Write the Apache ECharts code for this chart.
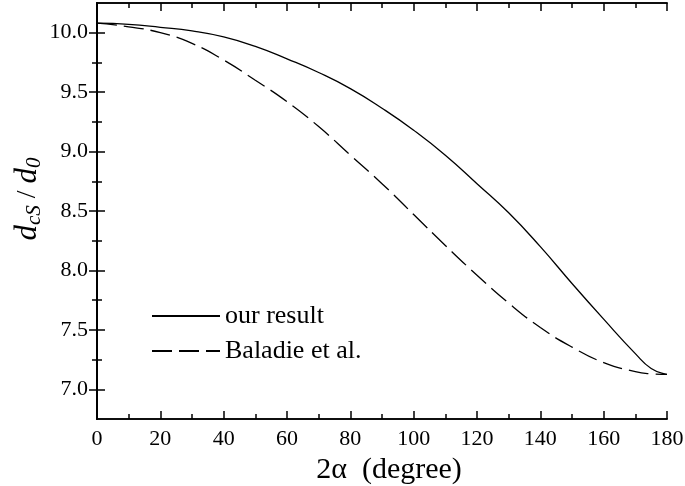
<!DOCTYPE html>
<html><head><meta charset="utf-8">
<script src="https://cdn.jsdelivr.net/npm/echarts@6/dist/echarts.min.js"></script>
<style>html,body{margin:0;padding:0;background:#fff}#c{width:685px;height:486px}</style>
</head><body><div id="c"></div>
<script>
// Data
const angles = [0,10,20,30,40,50,60,70,80,90,100,110,120,130,140,150,160,170,175,180];
const ourResult = [10.08,10.07,10.045,10.015,9.965,9.885,9.78,9.665,9.53,9.365,9.18,8.97,8.73,8.485,8.2,7.89,7.59,7.30,7.175,7.125];
const baladie   = [10.08,10.05,10.00,9.91,9.77,9.60,9.42,9.21,8.97,8.73,8.47,8.21,7.96,7.725,7.52,7.355,7.225,7.148,7.13,7.125];
const xMajor = [0,20,40,60,80,100,120,140,160,180];
const xMinor = [10,30,50,70,90,110,130,150,170];
const yMajor = [7.0,7.5,8.0,8.5,9.0,9.5,10.0];
const yMinor = [7.25,7.75,8.25,8.75,9.25,9.75];

const FONT = 'Liberation Serif';
const pair = (xs, ys) => xs.map((x, i) => [x, ys[i]]);
const X0 = 0, X1 = 180, Y0 = 6.75, Y1 = 10.25;
const lineS = {show: true, lineStyle: {color: '#000', width: 1.6}};

function xAx(pos, ticks, len, labels, extra) {
  return Object.assign({
    type: 'value', position: pos, min: X0, max: X1,
    axisLine: lineS,
    axisTick: {show: true, inside: true, length: len, customValues: ticks, lineStyle: {color: '#000', width: 1.5}},
    axisLabel: labels ? {show: true, customValues: ticks, margin: 9, fontFamily: FONT, fontSize: 22, color: '#000'} : {show: false},
    splitLine: {show: false}
  }, extra || {});
}
function yAx(pos, ticks, len, labels, extra) {
  return Object.assign({
    type: 'value', position: pos, min: Y0, max: Y1,
    axisLine: lineS,
    axisTick: {show: true, inside: true, length: len, customValues: ticks, lineStyle: {color: '#000', width: 1.5}},
    axisLabel: labels ? {show: true, customValues: ticks, margin: 9, fontFamily: FONT, fontSize: 22, color: '#000',
      formatter: v => Number(v).toFixed(1)} : {show: false},
    splitLine: {show: false}
  }, extra || {});
}

const chart = echarts.init(document.getElementById('c'), null, {renderer: 'canvas'});
chart.setOption({
  backgroundColor: '#fff',
  animation: false,
  grid: {left: 97, right: 18, top: 3, bottom: 67, containLabel: false, outerBoundsMode: 'none'},
  xAxis: [
    xAx('bottom', xMajor, 8, true, {
      name: '2α  (degree)', nameLocation: 'middle', nameGap: 22,
      nameTextStyle: {fontFamily: FONT, fontSize: 30, color: '#000', padding: [0, 0, 0, 14]}
    }),
    xAx('bottom', xMinor, 5, false),
    xAx('top', xMajor, 8, false),
    xAx('top', xMinor, 5, false)
  ],
  yAxis: [
    yAx('left', yMajor, 8, true),
    yAx('left', yMinor, 5, false),
    yAx('right', yMajor, 8, false),
    yAx('right', yMinor, 5, false)
  ],
  graphic: [{
    type: 'text', x: 28, y: 199, rotation: Math.PI / 2,
    style: {
      text: '{i|d}{s|cS}{n| / }{i|d}{s|0}',
      fill: '#000', align: 'center', verticalAlign: 'middle',
      rich: {
        i: {fontFamily: FONT, fontStyle: 'italic', fontSize: 31, fill: '#000'},
        s: {fontFamily: FONT, fontStyle: 'italic', fontSize: 21, fill: '#000', padding: [13, 0, 0, 0]},
        n: {fontFamily: FONT, fontSize: 28, fill: '#000'}
      }
    }
  }],
  legend: {
    show: true, orient: 'vertical', left: 146, top: 298,
    itemWidth: 68, itemHeight: 20, itemGap: 9,
    itemStyle: {opacity: 0},
    textStyle: {fontFamily: FONT, fontSize: 26, color: '#000'},
    data: ['our result', 'Baladie et al.']
  },
  series: [
    {name: 'our result', type: 'line', smooth: true, symbol: 'none', xAxisIndex: 0, yAxisIndex: 0,
     data: pair(angles, ourResult), lineStyle: {color: '#000', width: 1.3, type: 'solid'}, itemStyle: {color: '#000'}},
    {name: 'Baladie et al.', type: 'line', smooth: true, symbol: 'none', xAxisIndex: 0, yAxisIndex: 0,
     data: pair(angles, baladie), lineStyle: {color: '#000', width: 1.3, type: [20, 7]}, itemStyle: {color: '#000'}}
  ]
});
</script></body></html>
